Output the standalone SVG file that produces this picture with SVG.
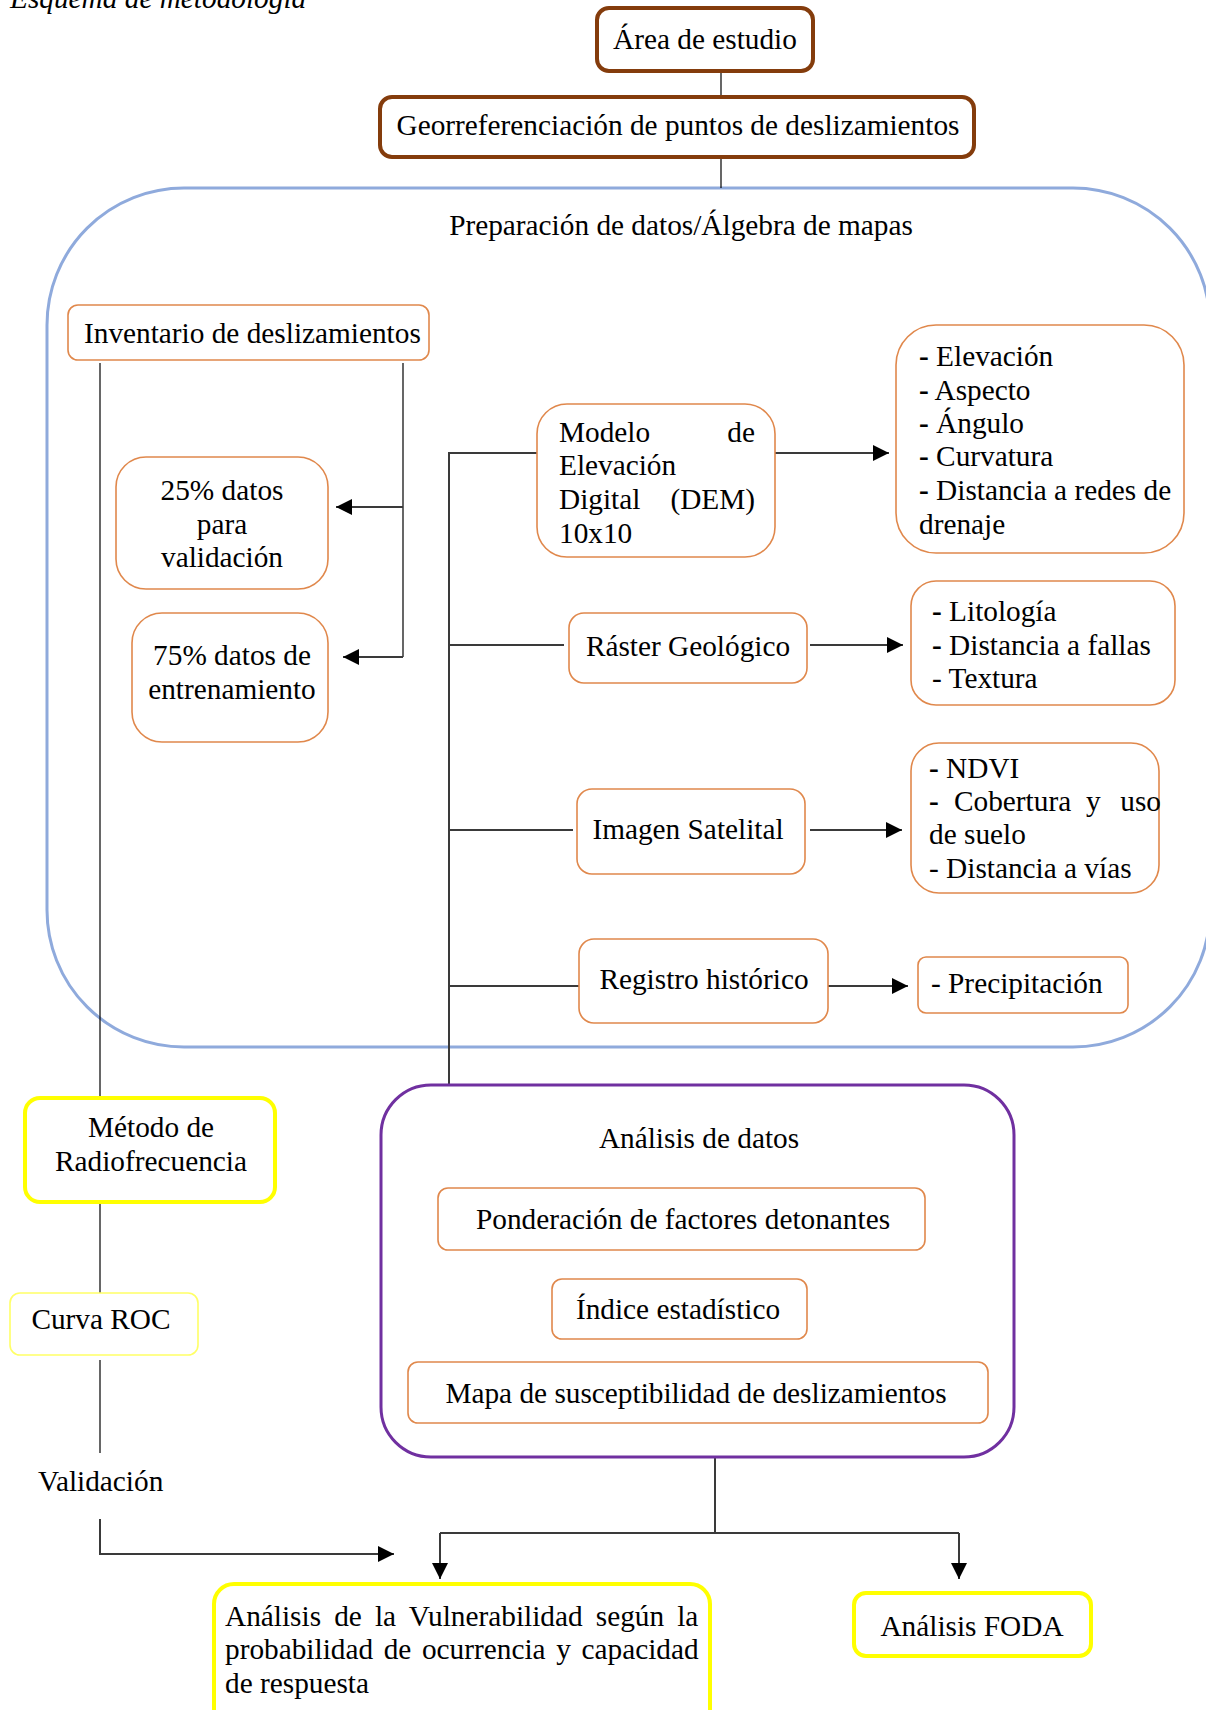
<svg xmlns="http://www.w3.org/2000/svg" width="1206" height="1710" viewBox="0 0 1206 1710">
<style>
text{font-family:"Liberation Serif","Times New Roman",serif;font-size:29.3px;fill:#000}
.c{text-anchor:middle}
.e{text-anchor:end}
.b{font-weight:bold}
.brown{fill:#fff;stroke:#843C0C;stroke-width:4}
.org{fill:#fff;stroke:#E0884C;stroke-width:1.6}
.yel{fill:#fff;stroke:#FFFF00;stroke-width:4}
.yelt{fill:#fff;stroke:#FFFF66;stroke-width:1.6}
.pur{fill:none;stroke:#7030A0;stroke-width:3}
.blue{fill:none;stroke:#8FAADC;stroke-width:3}
.thin{fill:none;stroke:#000;stroke-width:1.2}
.trunk{fill:none;stroke:#3a3a3a;stroke-width:2}
</style>
<defs>
<marker id="arr" viewBox="0 0 16 16" refX="16" refY="8" markerWidth="16" markerHeight="16" markerUnits="userSpaceOnUse" orient="auto">
<path d="M0,0 L16,8 L0,16 z" fill="#000"/>
</marker>
</defs>
<rect width="1206" height="1710" fill="#fff"/>
<text x="10" y="8" font-style="italic">Esquema de metodología</text>

<g id="prep">
<rect class="blue" x="47" y="188" width="1163" height="859" rx="137"/>
<text class="c" x="681" y="235">Preparación de datos/Álgebra de mapas</text>
</g>

<g id="connectors">
<path class="thin" d="M721,71 V97"/>
<path class="thin" d="M721,157 V188"/>
<path class="thin" d="M100,363 V1098"/>
<path class="thin" d="M100,1202 V1293"/>
<path class="thin" d="M100,1360 V1453"/>
<path class="trunk" d="M100,1519 V1554 H394" marker-end="url(#arr)"/>
<path class="thin" d="M403,363 V657"/>
<path class="trunk" d="M403,507 H336" marker-end="url(#arr)"/>
<path class="trunk" d="M403,657 H343" marker-end="url(#arr)"/>
<path class="trunk" d="M537,453 H449 V1085"/>
<path class="trunk" d="M449,645 H564"/>
<path class="trunk" d="M449,830 H573"/>
<path class="trunk" d="M449,986 H579"/>
<path class="trunk" d="M775,453 H889" marker-end="url(#arr)"/>
<path class="trunk" d="M810,645 H903" marker-end="url(#arr)"/>
<path class="trunk" d="M810,830 H902" marker-end="url(#arr)"/>
<path class="trunk" d="M828,986 H908" marker-end="url(#arr)"/>
<path class="trunk" d="M715,1457 V1533"/>
<path class="trunk" d="M440,1533 H959"/>
<path class="trunk" d="M440,1533 V1579" marker-end="url(#arr)"/>
<path class="trunk" d="M959,1533 V1579" marker-end="url(#arr)"/>
</g>

<g id="area">
<rect class="brown" x="597" y="8" width="216" height="63" rx="12"/>
<text class="c" x="705" y="49">Área de estudio</text>
</g>
<g id="georef">
<rect class="brown" x="380" y="97" width="594" height="60" rx="12"/>
<text class="c" x="678" y="135">Georreferenciación de puntos de deslizamientos</text>
</g>

<g id="inventario">
<rect class="org" x="68" y="305" width="361" height="55" rx="10"/>
<text x="84" y="343">Inventario de deslizamientos</text>
</g>
<g id="validacion25">
<rect class="org" x="116" y="457" width="212" height="132" rx="30"/>
<text class="c" x="222" y="500">25% datos</text>
<text class="c" x="222" y="534">para</text>
<text class="c" x="222" y="567">validación</text>
</g>
<g id="entrenamiento75">
<rect class="org" x="132" y="613" width="196" height="129" rx="30"/>
<text class="c" x="232" y="665">75% datos de</text>
<text class="c" x="232" y="699">entrenamiento</text>
</g>

<g id="dem">
<rect class="org" x="537" y="404" width="238" height="153" rx="30"/>
<text x="559" y="442">Modelo</text>
<text class="e" x="755" y="442">de</text>
<text x="559" y="475">Elevación</text>
<text x="559" y="509">Digital</text>
<text class="e" x="755" y="509">(DEM)</text>
<text x="559" y="543">10x10</text>
</g>
<g id="dem-vars">
<rect class="org" x="896" y="325" width="288" height="228" rx="40"/>
<text x="919" y="366"><tspan class="b">-</tspan> Elevación</text>
<text x="919" y="400"><tspan class="b">-</tspan> Aspecto</text>
<text x="919" y="433"><tspan class="b">-</tspan> Ángulo</text>
<text x="919" y="466"><tspan class="b">-</tspan> Curvatura</text>
<text x="919" y="500"><tspan class="b">-</tspan> Distancia a redes de</text>
<text x="919" y="534">drenaje</text>
</g>

<g id="raster">
<rect class="org" x="569" y="613" width="238" height="70" rx="15"/>
<text class="c" x="688" y="656">Ráster Geológico</text>
</g>
<g id="raster-vars">
<rect class="org" x="911" y="581" width="264" height="124" rx="25"/>
<text x="932" y="621"><tspan class="b">-</tspan> Litología</text>
<text x="932" y="655"><tspan class="b">-</tspan> Distancia a fallas</text>
<text x="932" y="688">- Textura</text>
</g>

<g id="imagen">
<rect class="org" x="577" y="789" width="228" height="85" rx="15"/>
<text class="c" x="688" y="839">Imagen Satelital</text>
</g>
<g id="imagen-vars">
<rect class="org" x="911" y="743" width="248" height="150" rx="28"/>
<text x="929" y="778"><tspan class="b">-</tspan> NDVI</text>
<text x="929" y="811" class="b">-</text>
<text x="954" y="811">Cobertura</text>
<text x="1086" y="811">y</text>
<text class="e" x="1161" y="811">uso</text>
<text x="929" y="844">de suelo</text>
<text x="929" y="878">- Distancia a vías</text>
</g>

<g id="registro">
<rect class="org" x="579" y="939" width="249" height="84" rx="15"/>
<text class="c" x="704" y="989">Registro histórico</text>
</g>
<g id="registro-vars">
<rect class="org" x="918" y="957" width="210" height="56" rx="8"/>
<text x="931" y="993">- Precipitación</text>
</g>

<g id="metodo">
<rect class="yel" x="25" y="1098" width="250" height="104" rx="15"/>
<text class="c" x="151" y="1137">Método de</text>
<text class="c" x="151" y="1171">Radiofrecuencia</text>
</g>
<g id="curva">
<rect class="yelt" x="10" y="1293" width="188" height="62" rx="10"/>
<text class="c" x="101" y="1329">Curva ROC</text>
</g>
<text x="38" y="1491">Validación</text>

<g id="analisis">
<rect class="pur" x="381" y="1085" width="633" height="372" rx="50"/>
<text class="c" x="699" y="1148">Análisis de datos</text>
</g>
<g id="ponderacion">
<rect class="org" x="438" y="1188" width="487" height="62" rx="10"/>
<text class="c" x="683" y="1229">Ponderación de factores detonantes</text>
</g>
<g id="indice">
<rect class="org" x="552" y="1279" width="255" height="60" rx="10"/>
<text class="c" x="678" y="1319">Índice estadístico</text>
</g>
<g id="mapa">
<rect class="org" x="408" y="1362" width="580" height="61" rx="10"/>
<text class="c" x="696" y="1403">Mapa de susceptibilidad de deslizamientos</text>
</g>

<g id="vulnerabilidad">
<rect class="yel" x="214" y="1584" width="496" height="150" rx="20"/>
<text x="225" y="1626" word-spacing="5.8">Análisis de la Vulnerabilidad según la</text>
<text x="225" y="1659" word-spacing="3.3">probabilidad de ocurrencia y capacidad</text>
<text x="225" y="1693">de respuesta</text>
</g>
<g id="foda">
<rect class="yel" x="854" y="1593" width="237" height="63" rx="12"/>
<text class="c" x="972" y="1636">Análisis FODA</text>
</g>
</svg>
